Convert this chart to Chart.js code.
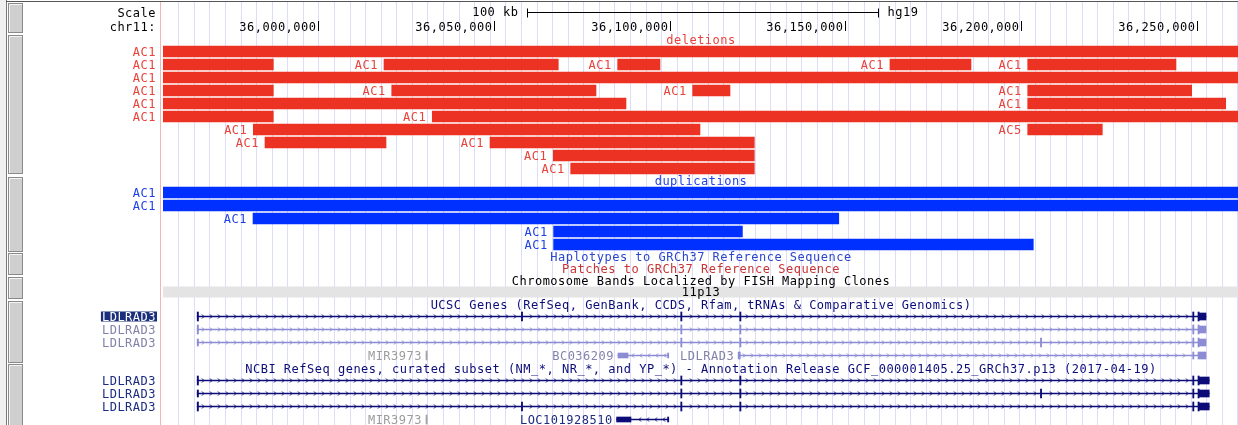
<!DOCTYPE html>
<html>
<head>
<meta charset="utf-8">
<script src="https://cdn.jsdelivr.net/npm/chart.js@4.4.1/dist/chart.umd.min.js"></script>
<style>
  html, body { margin: 0; padding: 0; background: #fff; overflow: hidden; }
  canvas { display: block; }
</style>
</head>
<body>
<canvas id="browser" width="1238" height="425"></canvas>
<script>
// ---- chr11 window (hg19) ----
const VIEW_START = 35955800;
const VIEW_END = 36261750;
const rulerTicks = [36000000, 36050000, 36100000, 36150000, 36200000, 36250000];
const scaleBarStart = 36059300;
const scaleBarLength = 100000;

// ---- deletions track: one entry per feature ----
const delRow   = [0, 1, 1, 1, 1, 1, 2, 3, 3, 3, 3, 4, 4, 5, 5, 6, 6, 7, 7, 8, 9];
const delStart = [35930000, 35930000, 36018700, 36085200, 36162700, 36201900, 35930000,
                  35930000, 36020900, 36106550, 36201900, 35930000, 36201900, 35930000,
                  36032440, 35981500, 36201900, 35984830, 36048870, 36066880, 36071830];
const delEnd   = [36290000, 35987200, 36068300, 36097250, 36185760, 36244100, 36290000,
                  35987200, 36079030, 36117170, 36248570, 36087570, 36258250, 35987200,
                  36290000, 36108630, 36223130, 36019270, 36124090, 36124090, 36124090];
const delName  = ['AC1', 'AC1', 'AC1', 'AC1', 'AC1', 'AC1', 'AC1', 'AC1', 'AC1', 'AC1', 'AC1',
                  'AC1', 'AC1', 'AC1', 'AC1', 'AC1', 'AC5', 'AC1', 'AC1', 'AC1', 'AC1'];

// ---- duplications track ----
const dupRow   = [0, 1, 2, 3, 4];
const dupStart = [35930000, 35930000, 35981420, 36066970, 36066970];
const dupEnd   = [36290000, 36290000, 36148130, 36120700, 36203490];
const dupName  = ['AC1', 'AC1', 'AC1', 'AC1', 'AC1'];

// ---- gene tracks: transcripts ----
const txTrack  = ['ucsc', 'ucsc', 'ucsc', 'ucsc', 'ucsc', 'ucsc', 'ncbi', 'ncbi', 'ncbi', 'ncbi', 'ncbi'];
const txRow    = [0, 1, 2, 3, 3, 3, 0, 1, 2, 3, 3];
const txName   = ['LDLRAD3', 'LDLRAD3', 'LDLRAD3', 'MIR3973', 'BC036209', 'LDLRAD3',
                  'LDLRAD3', 'LDLRAD3', 'LDLRAD3', 'MIR3973', 'LOC101928510'];
const txStart  = [35965530, 35965530, 35965530, 36030650, 36085290, 36119500,
                  35965530, 35965530, 35965530, 36030650, 36084900];
const txEnd    = [36252640, 36252640, 36252640, 36030750, 36099520, 36252640,
                  36253560, 36253560, 36253560, 36030750, 36099520];
const txStrand = ['+', '+', '+', '+', '-', '+', '+', '+', '+', '+', '-'];
const txShade  = ['ref', 'alt', 'alt', 'mir', 'alt', 'alt', 'ref', 'ref', 'ref', 'mir', 'ref'];
const selectedTx = 0;

// ---- gene tracks: exons (index into transcripts) ----
const exTx    = [0, 0, 0, 0, 0, 0, 0,
                 1, 1, 1, 1, 1, 1,
                 2, 2, 2, 2, 2, 2, 2,
                 3,
                 4, 4,
                 5, 5, 5,
                 6, 6, 6, 6, 6, 6,
                 7, 7, 7, 7, 7, 7, 7,
                 8, 8, 8, 8, 8, 8, 8,
                 9,
                 10, 10];
const exStart = [35965530, 36057800, 36103150, 36119950, 36248860, 36250360, 36250560,
                 35965530, 36103150, 36119950, 36248860, 36250360, 36250560,
                 35965530, 36103150, 36119950, 36205520, 36248860, 36250360, 36250560,
                 36030650,
                 36085290, 36099400,
                 36119500, 36248860, 36250360,
                 35965530, 36103150, 36119950, 36248860, 36250360, 36250560,
                 35965530, 36103150, 36119950, 36205520, 36248860, 36250360, 36250560,
                 35965530, 36057800, 36103150, 36119950, 36248860, 36250360, 36250560,
                 36030650,
                 36084900, 36099400];
const exEnd   = [35965900, 36057980, 36103300, 36120100, 36249020, 36250560, 36252640,
                 35965900, 36103300, 36120100, 36249020, 36250560, 36252640,
                 35965900, 36103300, 36120100, 36205680, 36249020, 36250560, 36252640,
                 36030750,
                 36088140, 36099520,
                 36120100, 36249020, 36252640,
                 35965900, 36103300, 36120100, 36249020, 36250560, 36253560,
                 35965900, 36103300, 36120100, 36205680, 36249020, 36250560, 36253560,
                 35965900, 36057980, 36103300, 36120100, 36249020, 36250560, 36253560,
                 36030750,
                 36088990, 36099520];
const exKind  = ['cds', 'cds', 'cds', 'cds', 'cds', 'cds', 'utr',
                 'cds', 'cds', 'cds', 'cds', 'cds', 'utr',
                 'utr', 'cds', 'cds', 'cds', 'cds', 'cds', 'utr',
                 'cds',
                 'nc', 'nc',
                 'utr', 'utr', 'utr',
                 'cds', 'cds', 'cds', 'cds', 'cds', 'utr',
                 'utr', 'cds', 'cds', 'cds', 'cds', 'cds', 'utr',
                 'cds', 'cds', 'cds', 'cds', 'cds', 'cds', 'utr',
                 'cds',
                 'nc', 'nc'];

// ---- track titles ----
const titles = {
  del: 'deletions',
  dup: 'duplications',
  hap: 'Haplotypes to GRCh37 Reference Sequence',
  patch: 'Patches to GRCh37 Reference Sequence',
  bands: 'Chromosome Bands Localized by FISH Mapping Clones',
  band: '11p13',
  ucsc: 'UCSC Genes (RefSeq, GenBank, CCDS, Rfam, tRNAs & Comparative Genomics)',
  ncbi: 'NCBI RefSeq genes, curated subset (NM_*, NR_*, and YP_*) - Annotation Release GCF_000001405.25_GRCh37.p13 (2017-04-19)'
};

// ---- look ----
const COLORS = {
  del: '#ec3223', delText: '#e8423a',
  dup: '#0030ff', dupText: '#1f40e8',
  grid: '#dcdef9', sep: '#f4b4b4', band: '#e4e4e4',
  hap: '#2a46cc', patch: '#c83434',
  line: { ref: '#0c0c78', alt: '#8c8cd4', mir: '#a4a4a4' },
  label: { ref: '#1c2c80', alt: '#8282aa', mir: '#9c9c9c' },
  select: '#1c2f7c'
};
const FONT = '12px "DejaVu Sans Mono", monospace';
const LABEL_RIGHT = 156;
const TITLE_X = 701;
const TRACKS = {
  del:  { first: 51.5,  pitch: 13 },
  dup:  { first: 192.5, pitch: 13 },
  ucsc: { first: 316.5, pitch: 13 },
  ncbi: { first: 380.5, pitch: 13 }
};
const TEXT_Y = { scale: 12.5, chrom: 26.5, del: 39.5, dup: 181, hap: 257, patch: 269,
                 bands: 281, band: 292, ucsc: 305, ncbi: 369 };
const THICK = { cds: 9, utr: 7, nc: 5 };

function rowY(track, row) { return TRACKS[track].first + row * TRACKS[track].pitch; }

// guide lines every ~15.6 px across the window
const GUIDE_FIRST = 35960156, GUIDE_STEP = 4432.6;
const guideValues = [];
for (let v = GUIDE_FIRST; v <= VIEW_END; v += GUIDE_STEP) guideValues.push(v);

// ---- chart data built from the arrays ----
const delBars = delStart.map((s, i) => ({ x: [s, delEnd[i]], y: rowY('del', delRow[i]) }));
const dupBars = dupStart.map((s, i) => ({ x: [s, dupEnd[i]], y: rowY('dup', dupRow[i]) }));
const txLines = txStart.map((s, i) => ({ x: [s, txEnd[i]], y: rowY(txTrack[i], txRow[i]), tx: i }));
function exonBars(kind) {
  const out = [];
  exStart.forEach((s, i) => {
    if (exKind[i] !== kind) return;
    const t = exTx[i];
    out.push({ x: [s, exEnd[i]], y: rowY(txTrack[t], txRow[t]), tx: t });
  });
  return out;
}
const txColor = c => COLORS.line[txShade[c.raw.tx]];

function text(ctx, s, x, y, color, align) {
  ctx.fillStyle = color;
  ctx.textAlign = align || 'left';
  ctx.fillText(s, x, y + 4);
}

const browserPlugin = {
  id: 'browserFrame',
  beforeDraw(chart) {
    const ctx = chart.ctx;
    const W = chart.width, H = chart.height;
    ctx.save();
    ctx.fillStyle = '#ffffff';
    ctx.fillRect(0, 0, W, H);
    // side strip and track buttons
    ctx.fillStyle = '#f0f0f0';
    ctx.fillRect(0, 0, 6, H);
    ctx.strokeStyle = '#7a7a7a';
    ctx.lineWidth = 1;
    ctx.beginPath(); ctx.moveTo(6.5, 0); ctx.lineTo(6.5, H); ctx.stroke();
    ctx.strokeStyle = '#555555';
    ctx.beginPath(); ctx.moveTo(6, 1.5); ctx.lineTo(W, 1.5); ctx.stroke();
    const buttons = [[3, 33], [35, 174], [177, 252], [253, 275], [277, 299], [301, 363], [364, 426]];
    buttons.forEach(([a, b]) => {
      ctx.fillStyle = '#cfcfcf';
      ctx.fillRect(8, a, 15, b - a);
      ctx.strokeStyle = '#8a8a8a';
      ctx.strokeRect(8.5, a + 0.5, 14, b - a - 1);
      ctx.strokeStyle = '#f4f4f4';
      ctx.beginPath(); ctx.moveTo(9.5, b - 1); ctx.lineTo(9.5, a + 1.5); ctx.lineTo(22, a + 1.5); ctx.stroke();
    });
    // label / data separator
    ctx.strokeStyle = COLORS.sep;
    ctx.beginPath(); ctx.moveTo(160.5, 2); ctx.lineTo(160.5, H); ctx.stroke();
    ctx.restore();
  },
  beforeDatasetsDraw(chart) {
    const ctx = chart.ctx, a = chart.chartArea, xs = chart.scales.x, ys = chart.scales.y;
    ctx.save();
    // guide lines
    ctx.strokeStyle = COLORS.grid;
    ctx.lineWidth = 1;
    ctx.beginPath();
    guideValues.forEach(v => {
      const x = Math.round(xs.getPixelForValue(v)) + 0.5;
      ctx.moveTo(x, 2); ctx.lineTo(x, a.bottom);
    });
    ctx.stroke();
    // chromosome band strip
    ctx.fillStyle = COLORS.band;
    ctx.fillRect(a.left, ys.getPixelForValue(TEXT_Y.band) - 5.5, a.right - a.left, 11);
    ctx.restore();
  },
  afterDatasetsDraw(chart) {
    const ctx = chart.ctx, xs = chart.scales.x, ys = chart.scales.y;
    const px = v => xs.getPixelForValue(v);
    const Y = v => ys.getPixelForValue(v);
    const T = (s, x, y, color, align) => text(ctx, s, x, Y(y), color, align);
    ctx.save();
    ctx.font = FONT;
    if ('letterSpacing' in ctx) ctx.letterSpacing = '0.5px';
    ctx.textBaseline = 'alphabetic';

    // ruler
    T('Scale', LABEL_RIGHT, TEXT_Y.scale, '#000', 'right');
    T('chr11:', LABEL_RIGHT, TEXT_Y.chrom, '#000', 'right');
    ctx.strokeStyle = '#000'; ctx.lineWidth = 1;
    rulerTicks.forEach(t => {
      const x = Math.round(px(t)) + 0.5;
      T(t.toLocaleString('en-US'), x - 2, TEXT_Y.chrom, '#000', 'right');
      ctx.beginPath(); ctx.moveTo(x, Y(TEXT_Y.chrom) - 5.5); ctx.lineTo(x, Y(TEXT_Y.chrom) + 4.5); ctx.stroke();
    });
    const s0 = Math.round(px(scaleBarStart)) + 0.5;
    const s1 = Math.round(px(scaleBarStart + scaleBarLength)) + 0.5;
    const sy = Math.round(Y(TEXT_Y.scale - 1)) + 0.5;
    ctx.beginPath();
    ctx.moveTo(s0, sy - 4); ctx.lineTo(s0, sy + 5);
    ctx.moveTo(s0, sy); ctx.lineTo(s1, sy);
    ctx.moveTo(s1, sy - 4); ctx.lineTo(s1, sy + 5);
    ctx.stroke();
    T((scaleBarLength / 1000) + ' kb', s0 - 9, TEXT_Y.scale - 1, '#000', 'right');
    T('hg19', s1 + 9, TEXT_Y.scale - 1, '#000', 'left');

    // track titles
    T(titles.del, TITLE_X, TEXT_Y.del, COLORS.delText, 'center');
    T(titles.dup, TITLE_X, TEXT_Y.dup, COLORS.dupText, 'center');
    T(titles.hap, TITLE_X, TEXT_Y.hap, COLORS.hap, 'center');
    T(titles.patch, TITLE_X, TEXT_Y.patch, COLORS.patch, 'center');
    T(titles.bands, TITLE_X, TEXT_Y.bands, '#000', 'center');
    T(titles.band, TITLE_X, TEXT_Y.band, '#000', 'center');
    T(titles.ucsc, TITLE_X, TEXT_Y.ucsc, COLORS.line.ref, 'center');
    T(titles.ncbi, TITLE_X, TEXT_Y.ncbi, COLORS.line.ref, 'center');

    // CNV feature labels
    function cnvLabels(track, rows, starts, names, color) {
      starts.forEach((s, i) => {
        const y = rowY(track, rows[i]);
        if (s < VIEW_START) T(names[i], LABEL_RIGHT, y, color, 'right');
        else T(names[i], px(s) - 6, y, color, 'right');
      });
    }
    cnvLabels('del', delRow, delStart, delName, COLORS.delText);
    cnvLabels('dup', dupRow, dupStart, dupName, COLORS.dupText);

    // transcripts: intron arrows and labels
    txStart.forEach((s, t) => {
      const yv = rowY(txTrack[t], txRow[t]);
      const y = Y(yv);
      const color = COLORS.line[txShade[t]];
      const x0 = px(s), x1 = px(txEnd[t]);
      const exPx = [];
      exTx.forEach((e, i) => { if (e === t) exPx.push([px(exStart[i]), px(exEnd[i])]); });
      const dir = txStrand[t] === '+' ? 1 : -1;
      ctx.strokeStyle = color;
      ctx.beginPath();
      for (let x = x0 + 6; x < x1 - 3; x += 8) {
        if (exPx.some(([p, q]) => x > p - 3 && x < q + 3)) continue;
        const xc = Math.round(x) + 0.5;
        ctx.moveTo(xc - 1.5 * dir, y - 2);
        ctx.lineTo(xc + 0.5 * dir, y);
        ctx.lineTo(xc - 1.5 * dir, y + 2);
      }
      ctx.stroke();

      const sameRow = txTrack.filter((k, j) => k === txTrack[t] && txRow[j] === txRow[t]).length;
      const lc = COLORS.label[txShade[t]];
      if (sameRow === 1) {
        if (t === selectedTx) {
          const w = ctx.measureText(txName[t]).width;
          ctx.fillStyle = COLORS.select;
          ctx.fillRect(LABEL_RIGHT - w - 1, y - 5, w + 2, 10);
          T(txName[t], LABEL_RIGHT, yv, '#ffffff', 'right');
        } else {
          T(txName[t], LABEL_RIGHT, yv, lc, 'right');
        }
      } else {
        T(txName[t], x0 - 4, yv, lc, 'right');
      }
    });
    ctx.restore();
  }
};

new Chart(document.getElementById('browser'), {
  type: 'bar',
  data: {
    datasets: [
      { label: 'deletions', data: delBars, backgroundColor: COLORS.del, barThickness: 11 },
      { label: 'duplications', data: dupBars, backgroundColor: COLORS.dup, barThickness: 11 },
      { label: 'transcripts', data: txLines, backgroundColor: txColor, barThickness: 1 },
      { label: 'coding exons', data: exonBars('cds'), backgroundColor: txColor, barThickness: THICK.cds, minBarLength: 1.2 },
      { label: 'UTR', data: exonBars('utr'), backgroundColor: txColor, barThickness: THICK.utr, minBarLength: 1.2 },
      { label: 'non-coding exons', data: exonBars('nc'), backgroundColor: txColor, barThickness: THICK.nc, minBarLength: 1.2 }
    ]
  },
  options: {
    indexAxis: 'y',
    responsive: false,
    animation: false,
    devicePixelRatio: 1,
    events: [],
    layout: { autoPadding: false, padding: { left: 163, right: 0, top: 0, bottom: 0 } },
    datasets: { bar: { grouped: false, borderWidth: 0, borderSkipped: false } },
    plugins: { legend: { display: false }, tooltip: { enabled: false }, title: { display: false } },
    scales: {
      x: { type: 'linear', min: VIEW_START, max: VIEW_END, display: false, offset: false },
      y: { type: 'linear', min: 0, max: 425, reverse: true, display: false, offset: false, grid: { offset: false } }
    }
  },
  plugins: [browserPlugin]
});
</script>
</body>
</html>
